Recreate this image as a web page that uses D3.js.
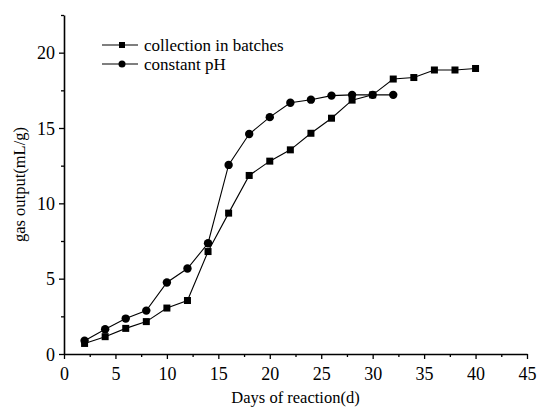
<!DOCTYPE html>
<html>
<head>
<meta charset="utf-8">
<script src="https://cdn.jsdelivr.net/npm/d3@7"></script>
<style>
  body { margin: 0; background: #fff; }
  svg { display: block; }
  svg text { font-family: 'Liberation Serif', 'Times New Roman', Times, 'DejaVu Serif', serif; }
</style>
</head>
<body>
<div id="chart"></div>
<script>
// data
const days = [2, 4, 6, 8, 10, 12, 14, 16, 18, 20, 22, 24, 26, 28, 30, 32, 34, 36, 38, 40];
const batchValues = [0.7, 1.15, 1.7, 2.15, 3.05, 3.55, 6.8, 9.35, 11.85, 12.8, 13.55, 14.65, 15.65, 16.85, 17.2, 18.25, 18.35, 18.85, 18.85, 18.95];
const phDays = [2, 4, 6, 8, 10, 12, 14, 16, 18, 20, 22, 24, 26, 28, 30, 32];
const phValues = [0.88, 1.64, 2.35, 2.88, 4.75, 5.67, 7.35, 12.55, 14.6, 15.72, 16.68, 16.88, 17.15, 17.2, 17.2, 17.2];
const xTicks = [0, 5, 10, 15, 20, 25, 30, 35, 40, 45];
const yTicks = [0, 5, 10, 15, 20];
const seriesNames = ['collection in batches', 'constant pH'];

const width = 537, height = 410;

const svg = d3.select('#chart')
    .append('svg')
    .attr('width', width)
    .attr('height', height);

const x = d3.scaleLinear().domain([0, 45]).range([64, 527]);
const y = d3.scaleLinear().domain([0, 22.5]).range([354, 15]);

// minor ticks first
const xMinor = d3.range(2.5, 45, 5);
const yMinor = d3.range(2.5, 22.6, 5);

svg.append('g')
    .attr('transform', `translate(0,${y(0)})`)
    .call(d3.axisBottom(x).tickValues(xMinor).tickSize(3).tickFormat(''))
    .call(g => g.select('.domain').remove())
    .selectAll('line').attr('stroke-width', 1.3);

svg.append('g')
    .attr('transform', `translate(${x(0)},0)`)
    .call(d3.axisLeft(y).tickValues(yMinor).tickSize(3).tickFormat(''))
    .call(g => g.select('.domain').remove())
    .selectAll('line').attr('stroke-width', 1.3);

const xAxis = svg.append('g')
    .attr('transform', `translate(0,${y(0)})`)
    .call(d3.axisBottom(x).tickValues(xTicks).tickSize(5).tickSizeOuter(0).tickPadding(4));

const yAxis = svg.append('g')
    .attr('transform', `translate(${x(0)},0)`)
    .call(d3.axisLeft(y).tickValues(yTicks).tickSize(5).tickSizeOuter(0).tickPadding(4));

[xAxis, yAxis].forEach(ax => {
    ax.attr('font-family', null).attr('font-size', null);
    ax.select('.domain').attr('stroke-width', 1.6);
    ax.selectAll('.tick line').attr('stroke-width', 1.3);
    ax.selectAll('.tick text')
        .style('font-size', '18px')
        .attr('fill', '#000');
});
xAxis.selectAll('.tick text').attr('dy', '0.92em');
yAxis.selectAll('.tick text').attr('dy', '0.34em');

// axis titles
svg.append('text')
    .attr('x', (x(0) + x(45)) / 2)
    .attr('y', 403)
    .attr('text-anchor', 'middle')
    .style('font-size', '16.5px')
    .text('Days of reaction(d)');

svg.append('text')
    .attr('transform', `translate(25,${(y(0) + y(22.5)) / 2}) rotate(-90)`)
    .attr('text-anchor', 'middle')
    .style('font-size', '16.5px')
    .text('gas output(mL/g)');

const line = d3.line().x(d => x(d[0])).y(d => y(d[1]));

const batchData = days.map((d, i) => [d, batchValues[i]]);
const phData = phDays.map((d, i) => [d, phValues[i]]);

const plot = svg.append('g');

plot.append('path')
    .datum(batchData)
    .attr('d', line)
    .attr('fill', 'none')
    .attr('stroke', '#000')
    .attr('stroke-width', 1.1);

plot.append('path')
    .datum(phData)
    .attr('d', line)
    .attr('fill', 'none')
    .attr('stroke', '#000')
    .attr('stroke-width', 1.1);

const sq = 7;
plot.selectAll('rect.batch')
    .data(batchData)
    .enter()
    .append('rect')
    .attr('class', 'batch')
    .attr('x', d => x(d[0]) - sq / 2)
    .attr('y', d => y(d[1]) - sq / 2)
    .attr('width', sq)
    .attr('height', sq)
    .attr('fill', '#000');

plot.selectAll('circle.ph')
    .data(phData)
    .enter()
    .append('circle')
    .attr('class', 'ph')
    .attr('cx', d => x(d[0]))
    .attr('cy', d => y(d[1]))
    .attr('r', 4.2)
    .attr('fill', '#000');

// legend
const legend = svg.append('g').attr('transform', 'translate(102,45)');
seriesNames.forEach((name, i) => {
    const row = legend.append('g').attr('transform', `translate(0,${i * 19})`);
    row.append('line')
        .attr('x1', 0).attr('x2', 36)
        .attr('y1', 0).attr('y2', 0)
        .attr('stroke', '#000')
        .attr('stroke-width', 1.1);
    if (i === 0) {
        row.append('rect')
            .attr('x', 20 - 3).attr('y', -3)
            .attr('width', 6).attr('height', 6)
            .attr('fill', '#000');
    } else {
        row.append('circle')
            .attr('cx', 20).attr('cy', 0)
            .attr('r', 3.5)
            .attr('fill', '#000');
    }
    row.append('text')
        .attr('x', 42)
        .attr('y', 0)
        .attr('dy', '0.33em')
        .style('font-size', '17px')
        .text(name);
});
</script>
</body>
</html>
